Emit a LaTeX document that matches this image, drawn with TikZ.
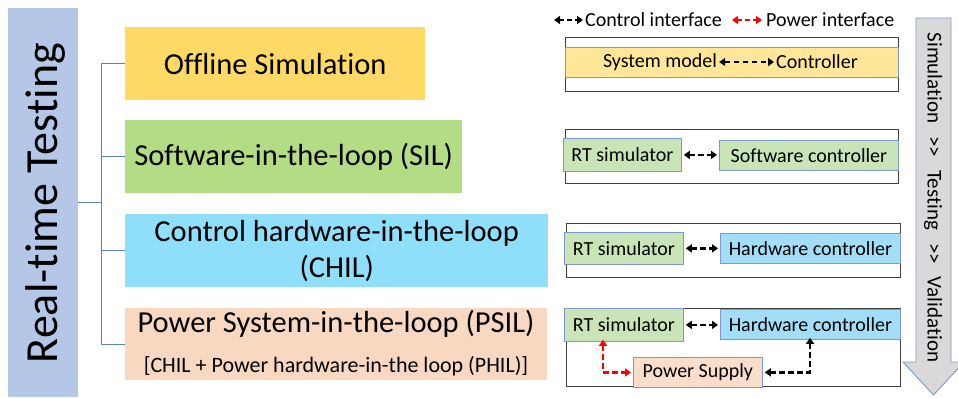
\documentclass[tikz,border=0pt]{standalone}
\usepackage{fontspec}
\setmainfont{Carlito}[Ligatures={NoCommon}]
\usetikzlibrary{arrows.meta}

\definecolor{barblue}{HTML}{B4C7E7}
\definecolor{treeblue}{HTML}{5B7FC4}
\definecolor{offY}{HTML}{FFD966}
\definecolor{silG}{HTML}{B3DD85}
\definecolor{chilC}{HTML}{8FDEFA}
\definecolor{psilP}{HTML}{F9D8C2}
\definecolor{stripY}{HTML}{FFE699}
\definecolor{rtG}{HTML}{C9E4B7}
\definecolor{hwC}{HTML}{A3DEF9}
\definecolor{psP}{HTML}{FADDCB}
\definecolor{edgeB}{HTML}{7B99CF}
\definecolor{frameK}{HTML}{404040}
\definecolor{flowgray}{HTML}{D9D9D9}

\newcommand{\flowgap}{\hspace{13pt}}

\begin{document}
\begin{tikzpicture}[x=1pt,y=-1pt,
  tree/.style={draw=treeblue, line width=0.9pt},
  cat/.style={inner sep=0pt, anchor=north west, align=center,
              font=\fontsize{30.5}{36}\selectfont},
  frame/.style={draw=frameK, line width=0.9pt, fill=white, inner sep=0pt, anchor=north west},
  inbox/.style={draw=edgeB, line width=0.8pt, inner sep=0pt, anchor=north west,
                font=\fontsize{20}{22}\selectfont},
  lbl/.style={inner sep=2pt, font=\fontsize{20}{22}\selectfont},
  tips/.style={{Triangle[length=6pt,width=8pt]}-{Triangle[length=6pt,width=8pt]}},
  ctrl/.style={draw=black, line width=2.6pt, dash pattern=on 5.5pt off 3.5pt, tips},
  pwr/.style={draw=red, line width=2.6pt, dash pattern=on 5.5pt off 3.5pt, tips}
]
\useasboundingbox (0,0) rectangle (958,397);

% Left title bar
\node[fill=barblue, inner sep=0pt, anchor=north west, minimum width=70pt, minimum height=389pt] (bar) at (8,8) {};
\node[rotate=90, inner sep=0pt, font=\fontsize{46}{50}\selectfont] (title) at (45,203) {Real-time Testing};

% Testing categories
\node[cat, fill=offY,  minimum width=300pt, minimum height=73pt] (off)  at (125,27)  {Offline Simulation};
\node[cat, fill=silG,  minimum width=337pt, minimum height=73pt] (sil)  at (125,120) {Software-in-the-loop (SIL)};
\node[cat, fill=chilC, minimum width=423pt, minimum height=73pt] (chil) at (125,214) {Control hardware-in-the-loop\\(CHIL)};
\node[cat, fill=psilP, minimum width=422pt, minimum height=72pt] (psil) at (125,308) {};
\node[inner sep=0pt, font=\fontsize{30.5}{36}\selectfont] (psilA) at (336,324) {Power System-in-the-loop (PSIL)};
\node[inner sep=0pt, font=\fontsize{22}{26}\selectfont] (psilB) at (336,366) {[CHIL + Power hardware-in-the loop (PHIL)]};

% Tree connector
\coordinate (spine) at (101,0);
\draw[tree] (bar.east) -- (bar.east -| spine);
\draw[tree] (off.west) -- (off.west -| spine) -- (psil.west -| spine) -- (psil.west);
\draw[tree] (sil.west) -- (sil.west -| spine);
\draw[tree] (chil.west) -- (chil.west -| spine);

% Legend
\coordinate (lc1) at (554,20);
\coordinate (lc2) at (583,20);
\draw[ctrl, dash pattern=on 4.5pt off 3pt] (lc1) -- (lc2);
\node[lbl, anchor=west, inner sep=0pt] (lctrl) at (585,20) {Control interface};
\coordinate (lp1) at (732,20);
\coordinate (lp2) at (762,20);
\draw[pwr, dash pattern=on 4.5pt off 3pt] (lp1) -- (lp2);
\node[lbl, anchor=west, inner sep=0pt] (lpwr) at (766,20) {Power interface};

% Offline simulation setup
\node[frame, minimum width=333pt, minimum height=54pt] (f1) at (565,37) {};
\node[inbox, fill=stripY, minimum width=333pt, minimum height=30pt] (strip) at (565,47) {};
\node[lbl] (sysm) at (660,62) {System model};
\node[lbl] (cont) at (817,62) {Controller};
\draw[ctrl] (sysm.east) -- (cont.west);

% SIL setup
\node[frame, minimum width=333pt, minimum height=54pt] (f2) at (565,129) {};
\node[inbox, fill=rtG, minimum width=118pt, minimum height=33pt] (rt2) at (563,138) {RT simulator};
\node[inbox, fill=rtG, minimum width=179pt, minimum height=30pt] (sw2) at (719,140) {Software controller};
\draw[ctrl] (rt2.east) ++(2,0) -- ([xshift=-2pt]rt2.east -| sw2.west);

% CHIL setup
\node[frame, minimum width=334pt, minimum height=54pt] (f3) at (566,223) {};
\node[inbox, fill=rtG, minimum width=119pt, minimum height=32pt] (rt3) at (564,232) {RT simulator};
\node[inbox, fill=hwC, minimum width=180pt, minimum height=30pt] (hw3) at (720,233) {Hardware controller};
\draw[ctrl] (rt3.east) ++(2,0) -- ([xshift=-2pt]rt3.east -| hw3.west);

% PSIL setup
\node[frame, minimum width=334pt, minimum height=78pt] (f4) at (566,308) {};
\node[inbox, fill=rtG, minimum width=119pt, minimum height=33pt] (rt4) at (564,308) {RT simulator};
\node[inbox, fill=hwC, minimum width=180pt, minimum height=30pt] (hw4) at (720,309) {Hardware controller};
\node[inbox, fill=psP, minimum width=129pt, minimum height=30pt] (ps4) at (633,357) {Power Supply};
\draw[ctrl] (rt4.east) ++(2,0) -- ([xshift=-2pt]rt4.east -| hw4.west);
\coordinate (redx) at (603,0);
\coordinate (blkx) at (810,0);
\draw[pwr] ([yshift=2pt]rt4.south -| redx) -- (ps4.west -| redx) -- ([xshift=-2pt]ps4.west);
\draw[ctrl] ([xshift=2pt]ps4.east) -- (ps4.east -| blkx) -- ([yshift=2pt]hw4.south -| blkx);

% Progression arrow
\draw[draw=edgeB, line width=0.9pt, fill=flowgray]
  (916,18) -- (951,18) -- (951,362) -- (964,362) -- (933.5,395)
  -- (903,362) -- (916,362) -- cycle;
\node[rotate=-90, inner sep=0pt, font=\fontsize{21}{24}\selectfont] (flow) at (933,197.5)
  {Simulation\flowgap{>}{>}\flowgap Testing\flowgap{>}{>}\flowgap Validation};
\end{tikzpicture}
\end{document}
